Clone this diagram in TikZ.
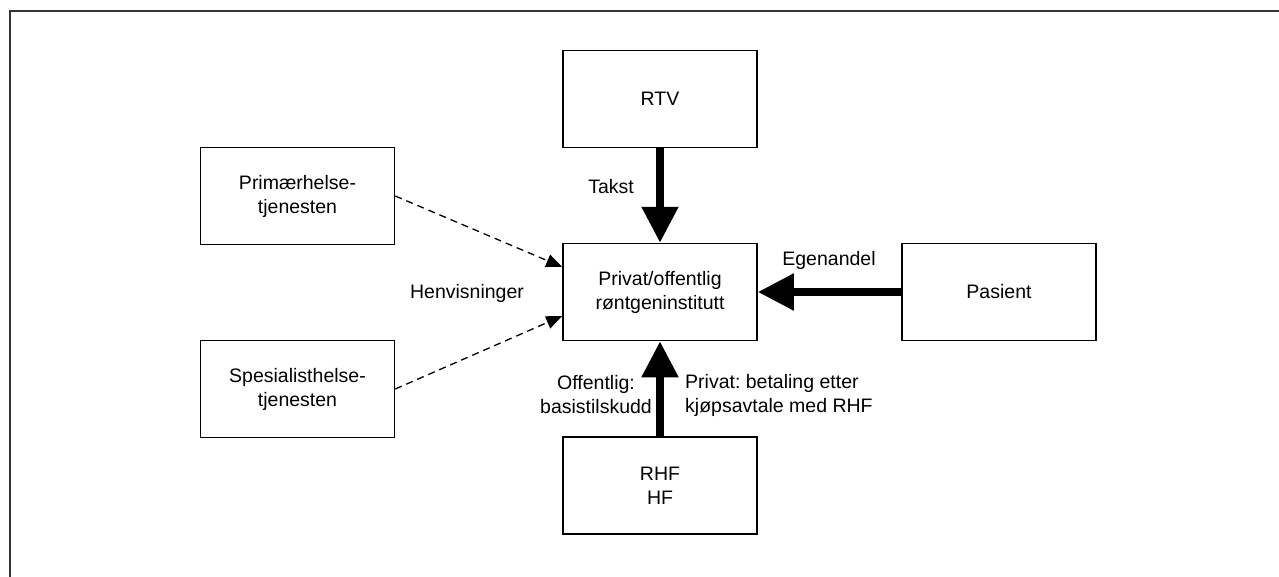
\documentclass[tikz,border=0pt]{standalone}
\usepackage{fontspec}
\setmainfont{Liberation Sans}
\usetikzlibrary{arrows.meta}
\frenchspacing
\begin{document}
\begin{tikzpicture}[x=1pt,y=-1pt,
  box/.style={draw=black,line width=1.5pt,minimum width=194pt,minimum height=97pt,
    inner sep=0pt,align=center,font=\fontsize{19.5}{24}\selectfont},
  lbl/.style={font=\fontsize{19.5}{24}\selectfont,inner sep=0pt},
  thick arrow/.style={line width=8pt,-{Triangle[width=35pt,length=36pt]}},
  ref arrow/.style={line width=1.3pt,dash pattern=on 7pt off 5pt,-{Triangle[width=13pt,length=16pt]}}]
\useasboundingbox (0,0) rectangle (1279,576);
\draw[line width=2pt,color=black!80] (10,577) -- (10,11) -- (1280,11);
\node[box] (rtv) at (660,99) {RTV};
\node[box] (c) at (660,292) {Privat/offentlig\\røntgeninstitutt};
\node[box] (pas) at (999,292) {Pasient};
\node[box] (rhf) at (660,485.5) {RHF\\HF};
\node[box] (prim) at (297.5,196) {Primærhelse-\\tjenesten};
\node[box] (spes) at (297.5,389) {Spesialisthelse-\\tjenesten};
\draw[thick arrow] (rtv.south) -- (c.north);
\draw[thick arrow] (pas.west) -- (c.east);
\draw[thick arrow] (rhf.north) -- (c.south);
\draw[ref arrow] (prim.east) -- ([yshift=25pt]c.west);
\draw[ref arrow] (spes.east) -- ([yshift=-24pt]c.west);
\node[lbl] (takst) at (611,187) {Takst};
\node[lbl] (egen) at (829,260) {Egenandel};
\node[lbl] (henv) at (467,293) {Henvisninger};
\node[lbl,align=center] (off) at (596,395) {Offentlig:\\basistilskudd};
\node[lbl,align=left,anchor=west] (priv) at (685,395) {Privat: betaling etter\\kjøpsavtale med RHF};
\end{tikzpicture}
\end{document}
